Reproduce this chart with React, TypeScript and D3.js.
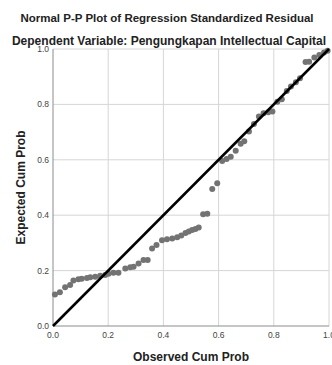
import React, { useEffect, useRef } from 'react';
import * as d3 from 'd3';

// Observed cum prob (x) and expected cum prob (y)
const observed = [
  0.007, 0.025, 0.044, 0.062, 0.074, 0.092, 0.104, 0.123, 0.135, 0.153,
  0.171, 0.189, 0.201, 0.219, 0.237, 0.262, 0.28, 0.292, 0.31, 0.328,
  0.343, 0.359, 0.375, 0.395, 0.413, 0.432, 0.45, 0.465, 0.48, 0.492,
  0.504, 0.516, 0.528, 0.544, 0.559, 0.577, 0.595, 0.613, 0.629, 0.644,
  0.662, 0.68, 0.693, 0.71, 0.728, 0.746, 0.763, 0.78, 0.795, 0.813,
  0.829, 0.847, 0.862, 0.88, 0.895, 0.915, 0.928, 0.947, 0.965, 0.982,
  0.995,
];
const expected = [
  0.114, 0.122, 0.14, 0.148, 0.164, 0.169, 0.171, 0.173, 0.176, 0.178,
  0.181, 0.184, 0.189, 0.192, 0.192, 0.208, 0.212, 0.214, 0.226, 0.238,
  0.238, 0.28, 0.292, 0.31, 0.313, 0.316, 0.32, 0.327, 0.336, 0.341,
  0.347, 0.35, 0.356, 0.403, 0.405, 0.495, 0.515, 0.596, 0.603, 0.611,
  0.633, 0.658, 0.667, 0.702, 0.729, 0.756, 0.768, 0.772, 0.774, 0.81,
  0.819, 0.848, 0.865, 0.88, 0.894, 0.953, 0.954, 0.969, 0.978, 0.987,
  0.994,
];
const ticks = [0, 0.2, 0.4, 0.6, 0.8, 1.0];

const W = 332;
const H = 365;

const App: React.FC = () => {
  const svgRef = useRef<SVGSVGElement>(null);

  useEffect(() => {
    const svg = d3.select(svgRef.current);
    svg.selectAll('*').remove();

    const margin = { top: 49, right: 3, bottom: 39, left: 53 };
    const x = d3.scaleLinear().domain([0, 1]).range([margin.left, W - margin.right]);
    const y = d3.scaleLinear().domain([0, 1]).range([H - margin.bottom, margin.top]);

    const font = '"Liberation Sans", Arial, sans-serif';

    // grid
    const grid = svg.append('g').attr('stroke', '#d6d6d6').attr('stroke-width', 1);
    ticks.slice(1).forEach(t => {
      grid.append('line')
        .attr('x1', x(t)).attr('x2', x(t))
        .attr('y1', y(0)).attr('y2', y(1));
      grid.append('line')
        .attr('x1', x(0)).attr('x2', x(1))
        .attr('y1', y(t)).attr('y2', y(t));
    });

    // axes lines
    svg.append('line')
      .attr('x1', x(0)).attr('x2', x(0)).attr('y1', y(0)).attr('y2', y(1))
      .attr('stroke', '#8c8c8c');
    svg.append('line')
      .attr('x1', x(0)).attr('x2', x(1)).attr('y1', y(0)).attr('y2', y(0))
      .attr('stroke', '#8c8c8c');

    // tick labels
    svg.append('g').selectAll('text').data(ticks).enter().append('text')
      .attr('x', x(0) - 4)
      .attr('y', d => y(d) + 3)
      .attr('text-anchor', 'end')
      .attr('font-family', font).attr('font-size', 8.5).attr('fill', '#444')
      .text(d => d3.format('.1f')(d));
    svg.append('g').selectAll('text').data(ticks).enter().append('text')
      .attr('x', d => x(d))
      .attr('y', y(0) + 12)
      .attr('text-anchor', 'middle')
      .attr('font-family', font).attr('font-size', 8.5).attr('fill', '#444')
      .text(d => d3.format('.1f')(d));

    // points
    svg.append('g').selectAll('circle').data(observed).enter().append('circle')
      .attr('cx', d => x(d))
      .attr('cy', (_, i) => y(expected[i]))
      .attr('r', 3)
      .attr('fill', '#737373');

    // reference diagonal
    svg.append('line')
      .attr('x1', x(0)).attr('y1', y(0)).attr('x2', x(1)).attr('y2', y(1))
      .attr('stroke', '#000').attr('stroke-width', 2.5);

    // titles
    svg.append('text')
      .attr('x', 167).attr('y', 22)
      .attr('text-anchor', 'middle')
      .attr('font-family', font).attr('font-size', 11.5).attr('font-weight', 'bold')
      .attr('fill', '#222')
      .text('Normal P-P Plot of Regression Standardized Residual');
    svg.append('text')
      .attr('x', 169).attr('y', 45)
      .attr('text-anchor', 'middle')
      .attr('font-family', font).attr('font-size', 12).attr('font-weight', 'bold')
      .attr('fill', '#222')
      .text('Dependent Variable: Pengungkapan Intellectual Capital');

    svg.append('text')
      .attr('x', 191).attr('y', 361)
      .attr('text-anchor', 'middle')
      .attr('font-family', font).attr('font-size', 12).attr('font-weight', 'bold')
      .attr('fill', '#222')
      .text('Observed Cum Prob');
    svg.append('text')
      .attr('transform', `translate(25,${(y(0) + y(1)) / 2}) rotate(-90)`)
      .attr('text-anchor', 'middle')
      .attr('font-family', font).attr('font-size', 12).attr('font-weight', 'bold')
      .attr('fill', '#222')
      .text('Expected Cum Prob');
  }, []);

  return (
    <svg
      ref={svgRef}
      width={W}
      height={H}
      style={{ position: 'absolute', left: 0, top: 0, background: '#fff' }}
    />
  );
};

export default App;
